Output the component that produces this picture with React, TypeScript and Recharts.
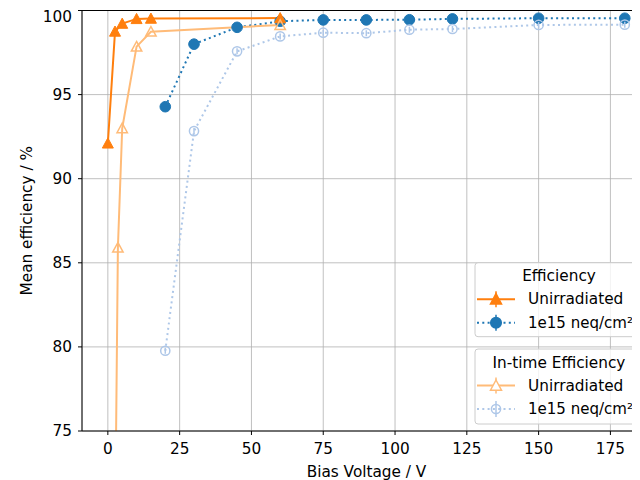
import React from "react";
import { ComposedChart, Line, XAxis, YAxis, CartesianGrid, ReferenceLine, Label } from "recharts";

// Efficiency, unirradiated
const effUnirrV = [0, 2.5, 5, 10, 15, 60];
const effUnirrVal = [92.1, 98.75, 99.22, 99.5, 99.52, 99.55];
// Efficiency, 1e15 neq/cm²
const effIrrV = [20, 30, 45, 60, 75, 90, 105, 120, 150, 180];
const effIrrVal = [94.28, 98.0, 99.0, 99.36, 99.44, 99.44, 99.45, 99.5, 99.54, 99.54];
// In-time efficiency, unirradiated
const itUnirrV = [0, 3.5, 5, 10, 15, 60];
const itUnirrVal = [25, 85.9, 93.0, 97.85, 98.74, 99.14];
// In-time efficiency, 1e15 neq/cm²
const itIrrV = [20, 30, 45, 60, 75, 90, 105, 120, 150, 180];
const itIrrVal = [79.77, 92.83, 97.57, 98.46, 98.68, 98.65, 98.86, 98.9, 99.14, 99.16];

const xTicks = [0, 25, 50, 75, 100, 125, 150, 175];
const yTicks = [75, 80, 85, 90, 95, 100];

const C_ORANGE = "#ff7f0e";
const C_LORANGE = "#ffbb78";
const C_BLUE = "#1f77b4";
const C_LBLUE = "#aec7e8";
const FONT = "DejaVu Sans, sans-serif";
const FS = 15.3;

const toRows = (xs: number[], ys: number[]) => xs.map((x, i) => ({ x, y: ys[i] }));
const effUnirr = toRows(effUnirrV, effUnirrVal);
const effIrr = toRows(effIrrV, effIrrVal);
const itUnirr = toRows(itUnirrV, itUnirrVal);
const itIrr = toRows(itIrrV, itIrrVal);

const triPath = (cx: number, cy: number, s: number) =>
  `M${cx},${cy - s} L${cx + s},${cy + s * 0.85} L${cx - s},${cy + s * 0.85} Z`;

const TriFilled = (p: any) =>
  p.cx == null || p.cy == null ? <g key={p.index} /> : (
    <path key={p.index} d={triPath(p.cx, p.cy, 5.5)} fill={C_ORANGE} stroke={C_ORANGE} strokeWidth={1} />
  );
const TriHollow = (p: any) =>
  p.cx == null || p.cy == null ? <g key={p.index} /> : (
    <path key={p.index} d={triPath(p.cx, p.cy, 5.2)} fill="none" stroke={C_LORANGE} strokeWidth={1.5} />
  );
const CircFilled = (p: any) =>
  p.cx == null || p.cy == null ? <g key={p.index} /> : (
    <circle key={p.index} cx={p.cx} cy={p.cy} r={5.3} fill={C_BLUE} stroke={C_BLUE} strokeWidth={1} />
  );
const CircHollow = (p: any) =>
  p.cx == null || p.cy == null ? <g key={p.index} /> : (
    <g key={p.index}>
      <circle cx={p.cx} cy={p.cy} r={4.6} fill="none" stroke={C_LBLUE} strokeWidth={1.5} />
      <line x1={p.cx} x2={p.cx} y1={p.cy - 3} y2={p.cy + 3} stroke={C_LBLUE} strokeWidth={1.5} />
    </g>
  );

const LegendBox = ({ top, height, title, items }: any) => (
  <g>
    <rect x={467} y={top} width={200} height={height} rx={3} ry={3} fill="rgba(255,255,255,0.8)" stroke="#cccccc" strokeWidth={1} />
    <text x={551} y={top + 13.5} textAnchor="middle" dominantBaseline="central" fontSize={FS} fontFamily={FONT} fill="#000">
      {title}
    </text>
    {items.map((it: any, i: number) => {
      const cy = top + 36.5 + i * 23.5;
      return (
        <g key={i}>
          <line x1={469} x2={507} y1={cy} y2={cy} stroke={it.color} strokeWidth={2} strokeDasharray={it.dash} />
          <line x1={488} x2={488} y1={cy - 8} y2={cy + 8} stroke={it.color} strokeWidth={1.5} />
          {it.marker === "tri" && <path d={triPath(488, cy, 5.5)} fill={it.filled ? it.color : "white"} stroke={it.color} strokeWidth={1.5} />}
          {it.marker === "circ" && <circle cx={488} cy={cy} r={it.filled ? 5.3 : 4.6} fill={it.filled ? it.color : "none"} stroke={it.color} strokeWidth={1.5} />}
          <text x={520} y={cy} dominantBaseline="central" fontSize={FS} fontFamily={FONT} fill="#000" textLength={it.len} lengthAdjust="spacingAndGlyphs">
            {it.label}
          </text>
        </g>
      );
    })}
  </g>
);

export default function App() {
  return (
    <div style={{ position: "relative", width: 632, height: 472, fontFamily: FONT }}>
      <ComposedChart width={632} height={472} margin={{ top: 2.5, right: 0, bottom: 0, left: 0 }}>
        <CartesianGrid stroke="#b0b0b0" strokeWidth={0.8} />
        <XAxis
          type="number"
          dataKey="x"
          domain={[-9, 185.3]}
          ticks={xTicks}
          allowDataOverflow
          height={49}
          axisLine={{ stroke: "#000", strokeWidth: 1 }}
          tickLine={{ stroke: "#000", strokeWidth: 1 }}
          tickSize={4}
          tickMargin={8}
          tick={{ fill: "#000", fontSize: FS, fontFamily: FONT }}
        >
          <Label
            content={() => (
              <text x={358.5} y={469} textAnchor="middle" fontSize={FS} fontFamily={FONT} fill="#000">
                Bias Voltage / V
              </text>
            )}
          />
        </XAxis>
        <YAxis
          type="number"
          domain={[75, 100]}
          ticks={yTicks}
          allowDataOverflow
          width={74}
          axisLine={{ stroke: "#000", strokeWidth: 1 }}
          tickLine={{ stroke: "#000", strokeWidth: 1 }}
          tickSize={4}
          tickMargin={6}
          tick={{ fill: "#000", fontSize: FS, fontFamily: FONT }}
        >
          <Label
            content={(props: any) => {
              const vb = props.viewBox || { x: 0, y: 2.5, width: 74, height: 420.5 };
              const cx = vb.x + 18.7;
              const cy = vb.y + vb.height / 2;
              return (
                <text x={cx} y={cy} transform={`rotate(-90, ${cx}, ${cy})`} textAnchor="middle" dominantBaseline="central" fontSize={FS} fontFamily={FONT} fill="#000">
                  Mean efficiency / %
                </text>
              );
            }}
          />
        </YAxis>
        <ReferenceLine y={100} stroke="#000" strokeWidth={1} />
        <Line data={effIrr} dataKey="y" stroke={C_BLUE} strokeWidth={2} strokeDasharray="2 3.3" dot={CircFilled} isAnimationActive={false} />
        <Line data={effUnirr} dataKey="y" stroke={C_ORANGE} strokeWidth={2} dot={TriFilled} isAnimationActive={false} />
        <Line data={itIrr} dataKey="y" stroke={C_LBLUE} strokeWidth={2} strokeDasharray="2 3.3" dot={CircHollow} isAnimationActive={false} />
        <Line data={itUnirr} dataKey="y" stroke={C_LORANGE} strokeWidth={2} dot={TriHollow} isAnimationActive={false} />
      </ComposedChart>
      <svg width={632} height={472} style={{ position: "absolute", left: 0, top: 0, pointerEvents: "none" }}>
        <LegendBox
          top={254.7}
          height={74}
          title="Efficiency"
          items={[
            { color: C_ORANGE, marker: "tri", filled: true, label: "Unirradiated" },
            { color: C_BLUE, marker: "circ", filled: true, dash: "2 3.3", label: "1e15 neq/cm²", len: 105 },
          ]}
        />
        <LegendBox
          top={341}
          height={75}
          title="In-time Efficiency"
          items={[
            { color: C_LORANGE, marker: "tri", filled: false, label: "Unirradiated" },
            { color: C_LBLUE, marker: "circ", filled: false, dash: "2 3.3", label: "1e15 neq/cm²", len: 105 },
          ]}
        />
      </svg>
    </div>
  );
}
